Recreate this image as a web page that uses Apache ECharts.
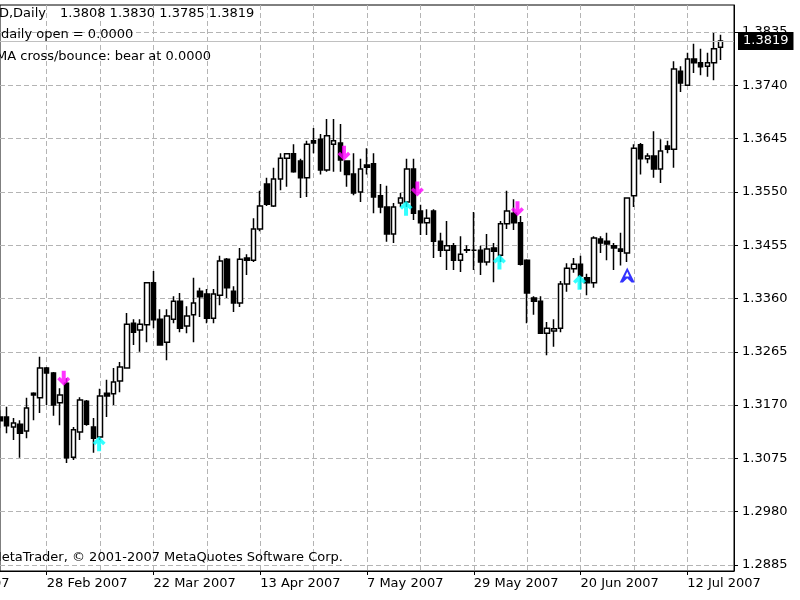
<!DOCTYPE html>
<html>
<head>
<meta charset="utf-8" />
<title>EURUSD Daily</title>
<script src="https://cdn.jsdelivr.net/npm/echarts@6.0.0/dist/echarts.min.js"></script>
<style>
  html, body { margin: 0; padding: 0; background: #fff; }
  #main { width: 800px; height: 600px; }
</style>
</head>
<body>
<div id="main"></div>
<script>
// daily bars, first one is 19 Feb 2007 (weekdays only), rows are [open, high, low, close]
var firstDay = "2007-02-19";
var candles = [
  [1.3149, 1.3161, 1.3129, 1.3142], [1.3149, 1.3167, 1.3120, 1.3133], [1.3131, 1.3147, 1.3108, 1.3138],
  [1.3136, 1.3143, 1.3076, 1.3120], [1.3124, 1.3183, 1.3111, 1.3165], [1.3191, 1.3193, 1.3143, 1.3188],
  [1.3183, 1.3256, 1.3156, 1.3236], [1.3236, 1.3238, 1.3170, 1.3227], [1.3227, 1.3229, 1.3151, 1.3170],
  [1.3174, 1.3200, 1.3134, 1.3188], [1.3209, 1.3218, 1.3067, 1.3076], [1.3077, 1.3131, 1.3072, 1.3126],
  [1.3122, 1.3184, 1.3108, 1.3179], [1.3177, 1.3179, 1.3133, 1.3136], [1.3131, 1.3147, 1.3085, 1.3111],
  [1.3113, 1.3199, 1.3108, 1.3186], [1.3191, 1.3215, 1.3149, 1.3186], [1.3190, 1.3236, 1.3170, 1.3211],
  [1.3213, 1.3247, 1.3193, 1.3238], [1.3236, 1.3334, 1.3236, 1.3314], [1.3316, 1.3323, 1.3277, 1.3300],
  [1.3304, 1.3323, 1.3265, 1.3314], [1.3313, 1.3389, 1.3282, 1.3388], [1.3388, 1.3409, 1.3307, 1.3322],
  [1.3323, 1.3341, 1.3277, 1.3277], [1.3282, 1.3341, 1.3250, 1.3329], [1.3323, 1.3364, 1.3316, 1.3355],
  [1.3355, 1.3370, 1.3300, 1.3307], [1.3311, 1.3346, 1.3298, 1.3329], [1.3331, 1.3397, 1.3282, 1.3352],
  [1.3373, 1.3379, 1.3327, 1.3363], [1.3368, 1.3377, 1.3316, 1.3325], [1.3325, 1.3377, 1.3316, 1.3368],
  [1.3366, 1.3436, 1.3348, 1.3427], [1.3430, 1.3432, 1.3361, 1.3379], [1.3373, 1.3382, 1.3336, 1.3352],
  [1.3352, 1.3450, 1.3345, 1.3430], [1.3432, 1.3439, 1.3402, 1.3428], [1.3428, 1.3503, 1.3425, 1.3484],
  [1.3484, 1.3552, 1.3480, 1.3525], [1.3564, 1.3575, 1.3525, 1.3528], [1.3525, 1.3593, 1.3523, 1.3573],
  [1.3573, 1.3619, 1.3553, 1.3610], [1.3610, 1.3619, 1.3559, 1.3618], [1.3618, 1.3635, 1.3584, 1.3586],
  [1.3605, 1.3609, 1.3539, 1.3575], [1.3575, 1.3641, 1.3541, 1.3635], [1.3641, 1.3664, 1.3619, 1.3637],
  [1.3644, 1.3653, 1.3581, 1.3589], [1.3589, 1.3680, 1.3586, 1.3650], [1.3635, 1.3680, 1.3586, 1.3641],
  [1.3637, 1.3671, 1.3586, 1.3607], [1.3605, 1.3605, 1.3559, 1.3581], [1.3582, 1.3619, 1.3544, 1.3548],
  [1.3550, 1.3609, 1.3532, 1.3591], [1.3598, 1.3628, 1.3581, 1.3594], [1.3600, 1.3619, 1.3512, 1.3541],
  [1.3543, 1.3564, 1.3512, 1.3523], [1.3523, 1.3561, 1.3461, 1.3475], [1.3475, 1.3530, 1.3459, 1.3523],
  [1.3530, 1.3548, 1.3523, 1.3539], [1.3532, 1.3609, 1.3523, 1.3591], [1.3591, 1.3609, 1.3500, 1.3512],
  [1.3516, 1.3527, 1.3473, 1.3495], [1.3495, 1.3519, 1.3473, 1.3503], [1.3516, 1.3519, 1.3432, 1.3462],
  [1.3462, 1.3477, 1.3434, 1.3446], [1.3446, 1.3498, 1.3411, 1.3454], [1.3454, 1.3459, 1.3411, 1.3428],
  [1.3428, 1.3471, 1.3407, 1.3439], [1.3446, 1.3455, 1.3441, 1.3447], [1.3446, 1.3514, 1.3411, 1.3446],
  [1.3446, 1.3454, 1.3402, 1.3425], [1.3425, 1.3475, 1.3419, 1.3448], [1.3450, 1.3459, 1.3389, 1.3444],
  [1.3437, 1.3498, 1.3425, 1.3493], [1.3493, 1.3552, 1.3484, 1.3516], [1.3512, 1.3537, 1.3482, 1.3495],
  [1.3495, 1.3507, 1.3419, 1.3421], [1.3428, 1.3430, 1.3316, 1.3370], [1.3361, 1.3364, 1.3331, 1.3355],
  [1.3355, 1.3364, 1.3298, 1.3298], [1.3298, 1.3318, 1.3259, 1.3307], [1.3302, 1.3323, 1.3274, 1.3306],
  [1.3307, 1.3391, 1.3300, 1.3386], [1.3386, 1.3423, 1.3372, 1.3414], [1.3413, 1.3432, 1.3406, 1.3421],
  [1.3421, 1.3436, 1.3377, 1.3400], [1.3397, 1.3404, 1.3366, 1.3388], [1.3388, 1.3471, 1.3379, 1.3468],
  [1.3466, 1.3471, 1.3441, 1.3459], [1.3462, 1.3477, 1.3428, 1.3457], [1.3454, 1.3459, 1.3411, 1.3450],
  [1.3448, 1.3477, 1.3419, 1.3444], [1.3441, 1.3539, 1.3425, 1.3539], [1.3543, 1.3635, 1.3523, 1.3628],
  [1.3634, 1.3637, 1.3581, 1.3609], [1.3609, 1.3619, 1.3601, 1.3614], [1.3614, 1.3658, 1.3575, 1.3591],
  [1.3591, 1.3644, 1.3566, 1.3623], [1.3632, 1.3641, 1.3619, 1.3626], [1.3626, 1.3783, 1.3593, 1.3769],
  [1.3765, 1.3774, 1.3728, 1.3744], [1.3740, 1.3798, 1.3739, 1.3787], [1.3787, 1.3814, 1.3762, 1.3780],
  [1.3780, 1.3805, 1.3758, 1.3773], [1.3774, 1.3798, 1.3755, 1.3780], [1.3780, 1.3833, 1.3749, 1.3805],
  [1.3808, 1.3830, 1.3785, 1.3819]
];
var extraSlots = 2; // empty room right of the last bar

// indicator signals: [bar index, price]
var bearArrows = [[10, 1.3218], [52, 1.3619], [63, 1.3555], [78, 1.3520]];
var bullArrows = [[15, 1.3101], [61, 1.3521], [75, 1.3425], [87, 1.3389]];
var entryMarks = [[94, 1.3402]];

var lastPrice = 1.3819;
var priceTicks = [1.2885, 1.2980, 1.3075, 1.3170, 1.3265, 1.3360, 1.3455, 1.3550, 1.3645, 1.3740, 1.3835];
var dateTicks = ["28 Feb 2007", "22 Mar 2007", "13 Apr 2007", "7 May 2007", "29 May 2007", "20 Jun 2007", "12 Jul 2007"];
var gridEvery = 8;
var firstGridBar = 7;

var FONT = "DejaVu Sans";
var months = ["Jan", "Feb", "Mar", "Apr", "May", "Jun", "Jul", "Aug", "Sep", "Oct", "Nov", "Dec"];

// weekday dates for the category axis
var dates = [];
var d = new Date(firstDay + "T12:00:00Z");
while (dates.length < candles.length + extraSlots) {
    var wd = d.getUTCDay();
    if (wd != 0 && wd != 6) {
        dates.push(d.getUTCDate() + " " + months[d.getUTCMonth()] + " " + d.getUTCFullYear());
    }
    d.setUTCDate(d.getUTCDate() + 1);
}

// echarts wants [open, close, low, high]
var kData = candles.map(function (r) { return [r[0], r[3], r[2], r[1]]; });

function isDateTick(index, value) {
    return dateTicks.indexOf(value) >= 0;
}

var arrowPath = "path://M6.5,0 L13,6.5 L10.5,9 L8.5,7 L8.5,15 L4.5,15 L4.5,7 L2.5,9 L0,6.5 Z";
var entryPath = "path://M7,0 L14,14 L11,14 L7,10 L3,14 L0,14 Z M7,4 L5,8.5 L9,8.5 Z";

var chart = echarts.init(document.getElementById("main"), null, { renderer: "canvas" });

var option = {
    animation: false,
    backgroundColor: "#ffffff",
    textStyle: { fontFamily: FONT },
    grid: {
        left: -1, right: 66, top: 5, bottom: 29,
        show: true, borderColor: "#000", borderWidth: 1, backgroundColor: "#fff"
    },
    xAxis: {
        type: "category",
        data: dates,
        boundaryGap: false,
        axisLine: { lineStyle: { color: "#000", width: 1 } },
        axisTick: { show: true, length: 4, interval: isDateTick, lineStyle: { color: "#000" } },
        axisLabel: {
            interval: isDateTick, align: "left", margin: 6,
            color: "#000", fontFamily: FONT, fontSize: 13
        },
        splitLine: {
            show: true,
            interval: function (i) { return i >= firstGridBar && (i - firstGridBar) % gridEvery === 0; },
            lineStyle: { color: "#b4b4b4", type: [5, 3], width: 1 }
        }
    },
    yAxis: {
        type: "value",
        position: "right",
        min: 1.28743,
        max: 1.38831,
        axisLine: { show: true, lineStyle: { color: "#000", width: 1 } },
        axisTick: { show: true, length: 4, customValues: priceTicks, lineStyle: { color: "#000" } },
        axisLabel: {
            customValues: priceTicks,
            formatter: function (v) { return v.toFixed(4); },
            margin: 8, color: "#000", fontFamily: FONT, fontSize: 13
        },
        splitLine: { show: true, lineStyle: { color: "#b4b4b4", type: [5, 3], width: 1 } }
    },
    series: [
        {
            type: "candlestick",
            data: kData,
            barWidth: 5,
            itemStyle: {
                color: "#ffffff", color0: "#000000",
                borderColor: "#000000", borderColor0: "#000000",
                borderWidth: 1.5
            },
            markLine: {
                silent: true,
                precision: 4,
                symbol: ["none", "none"],
                data: [{ yAxis: lastPrice }],
                lineStyle: { color: "#c0c0c0", type: "solid", width: 1 },
                label: {
                    show: true, position: "end", distance: 4,
                    formatter: lastPrice.toFixed(4),
                    color: "#fff", backgroundColor: "#000",
                    padding: [3, 5, 2, 5], fontFamily: FONT, fontSize: 13
                },
                emphasis: { disabled: true }
            }
        },
        {
            type: "scatter",
            data: bearArrows,
            symbol: arrowPath,
            symbolRotate: 180,
            symbolSize: [13, 15],
            symbolOffset: [-3, 0],
            itemStyle: { color: "#ff00ff" },
            silent: true
        },
        {
            type: "scatter",
            data: bullArrows,
            symbol: arrowPath,
            symbolSize: [13, 15],
            symbolOffset: [-1, 0],
            itemStyle: { color: "#00ffff" },
            silent: true
        },
        {
            type: "scatter",
            data: entryMarks,
            symbol: entryPath,
            symbolSize: [15, 15],
            itemStyle: { color: "#0000ff" },
            silent: true
        }
    ],
    graphic: [
        { type: "text", z: 100, style: { text: "EURUSD,Daily", x: 46, y: 14, align: "right", textAlign: "right", verticalAlign: "middle", textVerticalAlign: "middle", font: "13px " + FONT, fill: "#000" } },
        { type: "text", z: 100, style: { text: "1.3808 1.3830 1.3785 1.3819", x: 60, y: 14, verticalAlign: "middle", textVerticalAlign: "middle", font: "13px " + FONT, fill: "#000" } },
        { type: "text", z: 100, style: { text: "daily open = 0.0000", x: 1, y: 35, verticalAlign: "middle", textVerticalAlign: "middle", font: "13px " + FONT, fill: "#000" } },
        { type: "text", z: 100, style: { text: "MA cross/bounce: bear at 0.0000", x: -4, y: 57, verticalAlign: "middle", textVerticalAlign: "middle", font: "13px " + FONT, fill: "#000" } },
        { type: "text", z: 100, style: { text: "MetaTrader, \u00a9 2001-2007 MetaQuotes Software Corp.", x: 343, y: 558, align: "right", textAlign: "right", verticalAlign: "middle", textVerticalAlign: "middle", font: "13px " + FONT, fill: "#000" } },
        { type: "text", z: 100, style: { text: "6 Feb 2007", x: -63, y: 584, verticalAlign: "middle", textVerticalAlign: "middle", font: "13px " + FONT, fill: "#000" } }
    ]
};

chart.setOption(option);
</script>
</body>
</html>
